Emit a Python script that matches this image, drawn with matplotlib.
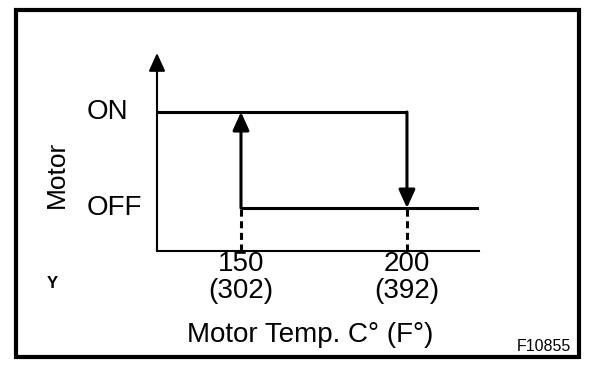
import matplotlib.pyplot as plt
from matplotlib.patches import Rectangle

plt.rcParams['font.family'] = ['Liberation Sans', 'DejaVu Sans']

# switching points of the motor, in C and F
temps_c = [150, 200]
temps_f = [302, 392]
state_names = ["OFF", "ON"]
state_levels = [0, 1]

W, H = 608, 374


def fx(px):
    return px / W


def fy(py):
    return 1 - py / H


fig = plt.figure(figsize=(W / 100, H / 100), dpi=100)

# outer frame
fig.patches.append(Rectangle((fx(16), fy(357)), fx(579) - fx(16), fy(10) - fy(357),
                             transform=fig.transFigure, fill=False, lw=3, ec="black"))

ax = fig.add_axes([fx(157), fy(251), fx(479) - fx(157), fy(53) - fy(251)])
x_lo, x_hi = 124.7, 221.7
y_lo, y_hi = -0.448, 1.615
ax.set_xlim(x_lo, x_hi)
ax.set_ylim(y_lo, y_hi)
for s in ["top", "right", "left"]:
    ax.spines[s].set_visible(False)
ax.spines["bottom"].set_linewidth(1.5)
ax.set_yticks([])

lw = 2.2
arrow_style = "-|>,head_length=1.1,head_width=0.5"

# y axis with arrow
ax.annotate("", xy=(0, 1), xytext=(0, 0), xycoords="axes fraction",
            arrowprops=dict(arrowstyle=arrow_style, lw=1.5, color="black",
                            shrinkA=0, shrinkB=0, mutation_scale=10))

off_lvl, on_lvl = state_levels
# ON branch, switching off at the upper point
ax.plot([x_lo, temps_c[1]], [on_lvl, on_lvl], color="black", lw=lw, solid_capstyle="butt")
ax.annotate("", xy=(temps_c[1], off_lvl), xytext=(temps_c[1], on_lvl),
            arrowprops=dict(arrowstyle=arrow_style, lw=lw, color="black",
                            shrinkA=0, shrinkB=0, mutation_scale=10))
# OFF branch, switching on at the lower point
ax.plot([temps_c[0], x_hi], [off_lvl, off_lvl], color="black", lw=lw, solid_capstyle="butt")
ax.annotate("", xy=(temps_c[0], on_lvl), xytext=(temps_c[0], off_lvl),
            arrowprops=dict(arrowstyle=arrow_style, lw=lw, color="black",
                            shrinkA=0, shrinkB=0, mutation_scale=10))

for t in temps_c:
    ax.plot([t, t], [y_lo, off_lvl], color="black", lw=lw, linestyle=(0, (2.3, 1.5)))

ax.set_xticks(temps_c, labels=[f"{c}\n({f})" for c, f in zip(temps_c, temps_f)])
ax.tick_params(axis="x", length=0, pad=0, labelsize=20)
plt.setp(ax.get_xticklabels(), linespacing=1.05)

for name, lvl in zip(state_names, state_levels):
    ax.annotate(name, xy=(0, lvl), xycoords=("axes fraction", "data"),
                xytext=(-50.4, 0), textcoords="offset points",
                ha="left", va="center", fontsize=20)

fig.text(fx(57), fy(174), "Motor", rotation=90, ha="center", va="center", fontsize=19)
fig.text(fx(310), fy(342), "Motor Temp. C\u00b0 (F\u00b0)", ha="center", va="baseline", fontsize=20)
fig.text(fx(52), fy(283), "Y", ha="center", va="center", fontsize=12, weight="bold")
fig.text(fx(571), fy(351), "F10855", ha="right", va="baseline", fontsize=11.5)

fig.savefig("out.png", dpi=100)
